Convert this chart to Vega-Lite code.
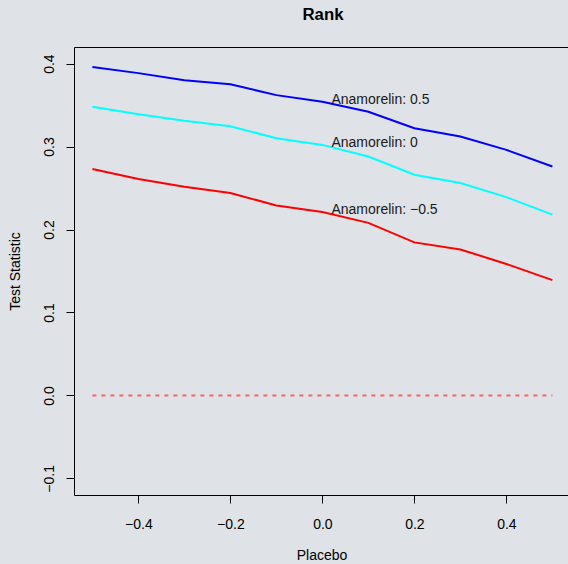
{
  "$schema": "https://vega.github.io/schema/vega-lite/v6.json",
  "width": 495,
  "height": 448,
  "autosize": {"type": "none"},
  "padding": {"left": 74, "top": 47, "right": 0, "bottom": 69},
  "background": "#dfe2e6",
  "title": {"text": "Rank", "fontSize": 16.8, "fontWeight": "bold", "font": "Liberation Sans", "color": "#000000", "anchor": "middle", "offset": 23, "dx": 1.5},
  "config": {
    "view": {"stroke": "#000000", "strokeWidth": 1, "fill": null},
    "axis": {"domain": false, "grid": false, "tickColor": "#000000", "tickSize": 8, "labelColor": "#000000", "titleColor": "#000000", "labelFont": "Liberation Sans", "titleFont": "Liberation Sans", "labelFontSize": 14, "titleFontSize": 14, "titleFontWeight": "normal"}
  },
  "datasets": {
    "lines": [
      {"placebo": -0.5, "stat": 0.396, "anamorelin": "0.5"},
      {"placebo": -0.4, "stat": 0.3885, "anamorelin": "0.5"},
      {"placebo": -0.3, "stat": 0.380, "anamorelin": "0.5"},
      {"placebo": -0.2, "stat": 0.375, "anamorelin": "0.5"},
      {"placebo": -0.1, "stat": 0.362, "anamorelin": "0.5"},
      {"placebo": 0.0, "stat": 0.354, "anamorelin": "0.5"},
      {"placebo": 0.1, "stat": 0.342, "anamorelin": "0.5"},
      {"placebo": 0.2, "stat": 0.322, "anamorelin": "0.5"},
      {"placebo": 0.3, "stat": 0.312, "anamorelin": "0.5"},
      {"placebo": 0.4, "stat": 0.296, "anamorelin": "0.5"},
      {"placebo": 0.5, "stat": 0.276, "anamorelin": "0.5"},
      {"placebo": -0.5, "stat": 0.348, "anamorelin": "0"},
      {"placebo": -0.4, "stat": 0.339, "anamorelin": "0"},
      {"placebo": -0.3, "stat": 0.331, "anamorelin": "0"},
      {"placebo": -0.2, "stat": 0.3245, "anamorelin": "0"},
      {"placebo": -0.1, "stat": 0.310, "anamorelin": "0"},
      {"placebo": 0.0, "stat": 0.302, "anamorelin": "0"},
      {"placebo": 0.1, "stat": 0.288, "anamorelin": "0"},
      {"placebo": 0.2, "stat": 0.266, "anamorelin": "0"},
      {"placebo": 0.3, "stat": 0.256, "anamorelin": "0"},
      {"placebo": 0.4, "stat": 0.239, "anamorelin": "0"},
      {"placebo": 0.5, "stat": 0.218, "anamorelin": "0"},
      {"placebo": -0.5, "stat": 0.273, "anamorelin": "-0.5"},
      {"placebo": -0.4, "stat": 0.261, "anamorelin": "-0.5"},
      {"placebo": -0.3, "stat": 0.2515, "anamorelin": "-0.5"},
      {"placebo": -0.2, "stat": 0.244, "anamorelin": "-0.5"},
      {"placebo": -0.1, "stat": 0.229, "anamorelin": "-0.5"},
      {"placebo": 0.0, "stat": 0.221, "anamorelin": "-0.5"},
      {"placebo": 0.1, "stat": 0.208, "anamorelin": "-0.5"},
      {"placebo": 0.2, "stat": 0.1845, "anamorelin": "-0.5"},
      {"placebo": 0.3, "stat": 0.176, "anamorelin": "-0.5"},
      {"placebo": 0.4, "stat": 0.1585, "anamorelin": "-0.5"},
      {"placebo": 0.5, "stat": 0.139, "anamorelin": "-0.5"}
    ],
    "zero": [
      {"placebo": -0.5, "stat": 0},
      {"placebo": 0.5, "stat": 0}
    ],
    "labels": [
      {"placebo": 0, "stat": 0.354, "label": "Anamorelin: 0.5"},
      {"placebo": 0, "stat": 0.302, "label": "Anamorelin: 0"},
      {"placebo": 0, "stat": 0.221, "label": "Anamorelin: −0.5"}
    ]
  },
  "encoding": {
    "x": {"field": "placebo", "type": "quantitative", "scale": {"domain": [-0.54, 0.5361], "nice": false, "zero": false},
      "axis": {"title": "Placebo", "values": [-0.4, -0.2, 0, 0.2, 0.4], "format": ".1f", "labelPadding": 14.5, "titlePadding": 17}},
    "y": {"field": "stat", "type": "quantitative", "scale": {"domain": [-0.12, 0.42], "nice": false, "zero": false},
      "axis": {"title": "Test Statistic", "values": [-0.1, 0, 0.1, 0.2, 0.3, 0.4], "format": ".1f", "labelAngle": -90, "labelAlign": "center", "labelBaseline": "bottom", "labelPadding": 10, "titlePadding": 20}}
  },
  "layer": [
    {
      "data": {"name": "zero"},
      "mark": {"type": "line", "color": "#ff0000", "opacity": 0.55, "strokeWidth": 2, "strokeDash": [4, 5]}
    },
    {
      "data": {"name": "lines"},
      "mark": {"type": "line", "strokeWidth": 2},
      "encoding": {
        "color": {"field": "anamorelin", "type": "nominal", "scale": {"domain": ["0.5", "0", "-0.5"], "range": ["#0000ff", "#00ffff", "#ff0000"]}, "legend": null},
        "order": {"field": "placebo", "type": "quantitative"}
      }
    },
    {
      "data": {"name": "labels"},
      "mark": {"type": "text", "align": "left", "baseline": "middle", "dx": 9, "dy": -2, "font": "Liberation Sans", "fontSize": 14, "color": "#1a1a1a"},
      "encoding": {"text": {"field": "label"}}
    }
  ]
}
